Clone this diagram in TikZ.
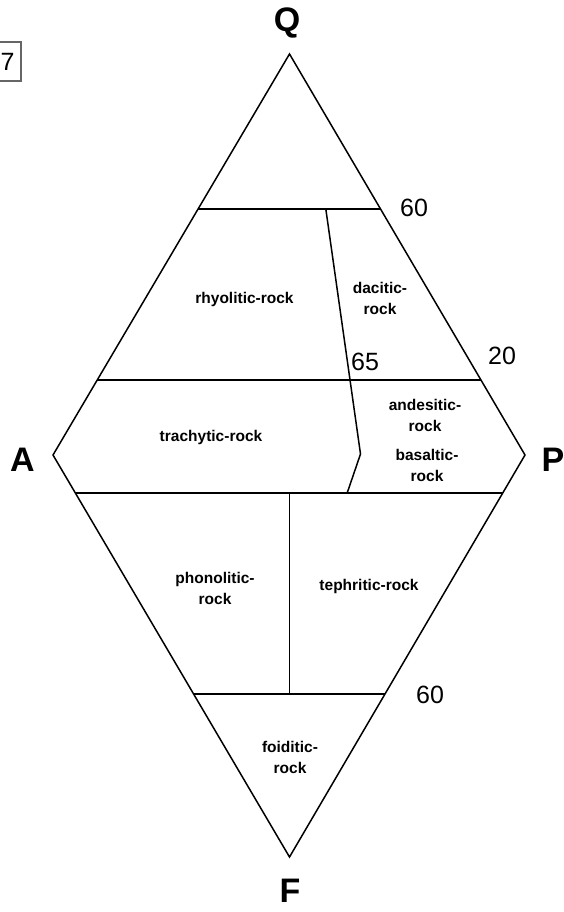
\documentclass[tikz,border=0pt]{standalone}
\usepackage{fontspec}
\setmainfont{Liberation Sans}
\usetikzlibrary{calc}
\tikzset{
  edge/.style={line width=1.5pt,black},
  corner/.style={font=\bfseries\fontsize{34}{40}\selectfont,inner sep=0pt},
  bound/.style={font=\fontsize{25}{30}\selectfont,inner sep=0pt},
  field/.style={font=\bfseries\fontsize{15.5}{21}\selectfont,align=center,
    inner sep=0pt}
}

\begin{document}
\begin{tikzpicture}[x=1pt,y=-1pt]
  \useasboundingbox (0,0) rectangle (564,912);

  % QAPF corners
  \coordinate (Q) at (289.5,54);
  \coordinate (A) at (53,455);
  \coordinate (P) at (525,455);
  \coordinate (F) at (289.5,857);
  \draw[edge,line join=miter] (Q) -- (P) -- (F) -- (A) -- cycle;

  % field boundaries
  \coordinate (topl) at ($(Q)!0.387!(A)$);
  \coordinate (topr) at ($(Q)!0.387!(P)$);
  \coordinate (midl) at ($(Q)!0.813!(A)$);
  \coordinate (midr) at ($(Q)!0.813!(P)$);
  \coordinate (lowl) at ($(A)!0.0945!(F)$);
  \coordinate (lowr) at ($(P)!0.0945!(F)$);
  \coordinate (botl) at ($(A)!0.5945!(F)$);
  \coordinate (botr) at ($(P)!0.5945!(F)$);
  \draw[edge] (topl) -- (topr);
  \draw[edge] (midl) -- (midr);
  \draw[edge] (lowl) -- (lowr);
  \draw[edge] (botl) -- (botr);

  \coordinate (d1) at ($(topl)!0.7!(topr)$);
  \coordinate (d2) at (360.5,454);
  \coordinate (d3) at ($(lowl)!0.636!(lowr)$);
  \draw[edge] (d1) -- (d2) -- (d3);
  \draw[edge] (F |- lowl) -- (F |- botl);

  \node[corner] (lQ) at (287,23) {Q};
  \node[corner] (lA) at (22.5,460) {A};
  \node[corner] (lP) at (553,460) {P};
  \node[corner] (lF) at (290,891) {F};

  \node[bound] (n60a) at (414,208) {60};
  \node[bound] (n20) at (502,356) {20};
  \node[bound] (n65) at (365,362) {65};
  \node[bound] (n60b) at (430,695) {60};
  \node[bound,draw=black!60,line width=1.3pt,minimum width=27pt,
        minimum height=39pt] (num) at (7.5,61.5) {7};

  \node[field] (rhy) at (244.5,299) {rhyolitic-rock};
  \node[field] (dac) at (380,298.5) {dacitic-\\rock};
  \node[field] (tra) at (211,437) {trachytic-rock};
  \node[field] (and) at (425,415) {andesitic-\\rock};
  \node[field] (bas) at (427,465) {basaltic-\\rock};
  \node[field] (pho) at (215,588.5) {phonolitic-\\rock};
  \node[field] (tep) at (369,586) {tephritic-rock};
  \node[field] (foi) at (290,757) {foiditic-\\rock};
\end{tikzpicture}
\end{document}
